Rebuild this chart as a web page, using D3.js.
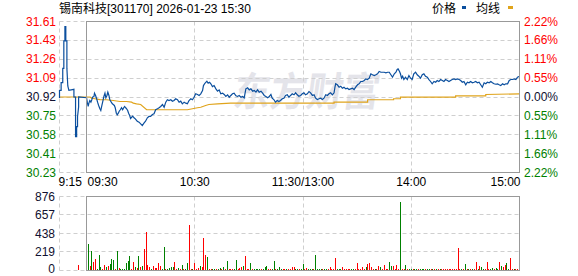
<!DOCTYPE html>
<html>
<head>
<meta charset="utf-8">
<script src="https://cdn.jsdelivr.net/npm/d3@7"></script>
<style>
  body { margin: 0; background: #fff; }
  svg { display: block; font-family: "Liberation Sans", Arial, "Noto Sans CJK SC", sans-serif; font-size: 12px; }
</style>
</head>
<body>
<svg id="chart" width="578" height="276"></svg>
<script>
// ---- data ----
var title = "锡南科技[301170] 2026-01-23 15:30";
var prevClose = 30.92;
var maxPct = 0.0222;

var priceLabels = ["31.61", "31.43", "31.26", "31.09", "30.92", "30.75", "30.58", "30.41", "30.23"];
var pctLabels = ["2.22%", "1.66%", "1.11%", "0.55%", "0.00%", "0.55%", "1.11%", "1.66%", "2.22%"];
var volTicks = [0, 219, 438, 657, 876];

// minutes from 09:30 (lunch removed, pre-market negative)
var timeTicks = [-15, 0, 60, 120, 180, 240];
var timeLabels = ["9:15", "09:30", "10:30", "11:30/13:00", "14:00", "15:00"];

// [minute, price]
var pricePoints = [
  [-15,30.91],[-15,30.98],[-14.1,30.98],[-14.1,31.05],[-13.2,31.05],[-13.2,31.18],[-12.6,31.18],[-12.6,31.43],
  [-12,31.43],[-12,31.56],[-11.5,31.56],[-11.5,31.43],[-10.9,31.43],[-10.9,31.18],[-10.4,31.02],[-9.8,30.98],
  [-7,30.99],[-7,30.92],[-6.1,30.92],[-6.1,30.56],[-5.5,30.56],[-5.5,30.65],[-5,30.65],[-5,30.74],[-4.4,30.83],
  [-4.4,30.92],
  [0,30.913],[0.4,30.873],[0.9,30.834],[1.3,30.864],[1.8,30.888],[2.4,30.873],[2.9,30.895],[3.3,30.918],[4.1,30.925],
  [4.4,30.955],[5,30.934],[5.6,30.904],[6.1,30.873],[6.7,30.843],[7.4,30.813],[7.9,30.797],[8.5,30.843],[9.1,30.888],
  [9.6,30.925],[10.2,30.955],[10.7,30.913],[11.3,30.934],[11.8,30.964],[12.4,30.934],[12.9,30.895],[13.7,30.873],
  [14.3,30.858],[14.8,30.852],[15.4,30.843],[15.9,30.822],[16.5,30.773],[17,30.758],[17.6,30.773],[18.1,30.791],
  [18.7,30.804],[19.4,30.822],[20,30.804],[20.6,30.822],[21.1,30.834],[21.7,30.822],[22.2,30.813],[22.8,30.797],
  [23.3,30.773],[23.9,30.752],[24.4,30.725],[25,30.736],[25.6,30.746],[26.3,30.731],[26.8,30.725],
  [28.1,30.700],[29.1,30.691],[30,30.676],[30.9,30.661],[31.8,30.682],[32.7,30.700],[33.7,30.731],[34.6,30.743],
  [35.5,30.743],[36.5,30.761],[37.4,30.767],[38.3,30.804],[39.3,30.813],[40.2,30.822],[41.1,30.834],[42.1,30.852],
  [43,30.827],[43.9,30.873],[44.8,30.895],[45.7,30.888],[46.7,30.895],[47.6,30.882],[48.5,30.888],[49.4,30.904],
  [50.4,30.895],[51.3,30.873],[52.2,30.882],[53.1,30.858],[54.1,30.873],[55,30.864],[55.9,30.858],[56.8,30.888],
  [57.8,30.904],[58.7,30.895],[59.6,30.918],[60.5,30.949],[61.5,30.943],[62.4,30.934],[63.3,30.949],[64.3,30.979],
  [64.8,31.024],[65.6,31.045],[66.7,31.064],[67.4,31.045],[68.2,31.054],[68.9,31.040],[69.8,31.015],[70.7,31.024],
  [71.7,30.994],[72.6,30.973],[73.5,30.985],[74.4,30.949],[75.4,30.955],[76.3,30.943],[77.2,30.925],[78.2,30.940],
  [79.1,30.918],[80,30.934],[80.9,30.949],[81.8,30.955],[82.8,30.931],[83.7,30.925],[84.6,30.934],[85.6,30.918],
  [86.5,30.925],[87.4,30.913],[88.3,30.994],[89.3,31.004],[90.2,30.985],[91.1,30.994],[92.1,30.973],[93,30.979],
  [93.9,30.964],[94.8,30.985],[95.7,30.964],[96.7,30.973],[97.6,30.955],[98.5,30.934],[99.4,30.925],[100.4,30.913],
  [101.3,30.925],[102.2,30.943],[102.9,30.909],[103.8,30.897],[104.7,30.873],[105.7,30.888],[106.6,30.879],
  [107.5,30.888],[108.5,30.904],[109.4,30.909],[110.3,30.934],[111.3,30.940],[112.2,30.918],[113.1,30.934],
  [114,30.949],[115,30.940],[115.9,30.958],[116.8,30.940],[117.7,30.927],[118.7,30.934],[119.6,30.949],
  [120.5,30.958],[121.4,30.940],[122.4,30.949],[123.3,30.970],[124.2,30.958],[125.2,30.934],[126.1,30.940],
  [127,30.909],[127.9,30.897],[128.9,30.904],[129.8,30.909],[130.7,30.897],[131.6,30.909],[132.6,30.940],
  [133.5,30.934],[134.4,30.949],[135.3,30.958],[136.3,30.940],[137.2,30.958],[137.7,31.009],[138.1,31.040],
  [139,31.031],[140,31.009],[140.9,31.018],[141.8,31.000],[142.7,31.009],[143.7,30.994],[144.6,31.000],
  [145.5,30.988],[146.4,30.994],[147.4,31.000],[148.3,30.988],[149.2,31.009],[150.2,31.031],[151.1,31.040],
  [152,31.061],[153,31.061],[153.9,31.070],[154.8,31.085],[155.7,31.079],[156.7,31.091],[157.6,31.131],
  [158.5,31.122],[159.5,31.115],[160.4,31.122],[161.3,31.131],[162.2,31.152],[163.2,31.145],[164.1,31.145],
  [165,31.145],[165.9,31.140],[166.9,31.145],[167.8,31.145],[168.7,31.122],[169.6,31.100],[170.6,31.131],
  [171.5,31.145],[172.2,31.170],[172.7,31.176],[173.5,31.152],[174,31.131],[174.6,31.091],[175.2,31.109],
  [175.9,31.079],[176.8,31.100],[177.8,31.079],[178.7,31.115],[179.6,31.091],[180.5,31.079],[181.4,31.131],
  [182.4,31.145],[183.3,31.122],[184.2,31.109],[185.1,31.091],[186.1,31.122],[187,31.131],[187.9,31.109],
  [188.9,31.100],[189.8,31.079],[190.7,31.061],[191.6,31.040],[192.6,31.061],[193.5,31.054],[194.4,31.070],
  [195.3,31.061],[196.3,31.079],[197.2,31.070],[198.1,31.061],[199,31.079],[200,31.070],[200.9,31.061],
  [201.8,31.070],[202.7,31.079],[203.7,31.085],[204.6,31.079],[205.5,31.085],[206.5,31.079],[207.4,31.070],
  [208.3,31.054],[209.2,31.061],[210.2,31.031],[211.1,31.054],[212,31.049],[212.9,31.061],[213.9,31.049],
  [214.8,31.054],[215.7,31.061],[216.7,31.049],[217.6,31.054],[218.5,31.031],[219.4,31.009],[220.4,31.049],
  [221.3,31.040],[222.2,31.054],[223.2,31.049],[224.1,31.061],[225,31.049],[225.9,31.040],[226.9,31.036],
  [227.8,31.040],[228.7,31.031],[229.6,31.024],[230.6,31.040],[231.5,31.031],[232.4,31.040],[233.4,31.040],
  [234.3,31.070],[235.2,31.079],[236.1,31.079],[237.1,31.085],[238,31.079],[238.9,31.100],[240,31.109]
];

// [minute, average price]
var avgPoints = [
  [-15,30.92],[2,30.92],[2.8,30.909],[4.6,30.904],[7.4,30.897],[11.1,30.895],[14.8,30.888],[18.5,30.879],
  [22.2,30.879],[25,30.873],[25.9,30.864],[27.7,30.858],[30,30.852],[33.3,30.804],[55.9,30.804],[58.7,30.813],
  [61.5,30.822],[63.3,30.827],[66,30.843],[67.8,30.852],[72.6,30.858],[79.8,30.864],[137.2,30.864],
  [137.2,30.873],[155.8,30.873],[155.8,30.895],[170.2,30.895],[170.2,30.904],[174,30.904],[174,30.918],
  [204.6,30.918],[204.6,30.931],[221.3,30.931],[221.3,30.943],[240,30.949]
];

// one bar per minute from 09:30; positive = up tick (red), negative = down tick (green)
var volumes = [
  8, -308, 47, -225, 99, 130, -8, -178, -32, 8, 59, -32, 51, -71, -130, -118, 12, -225, 20, -12,
  -12, -12, -87, -110, -166, 8, 95, -32, 24, -166, 32, -47, 245, 446, 59, 32, -8, 47, 28, 28,
  79, 47, -8, -272, 12, -12, -20, -32, -40, 95, 12, -24, 16, -59, 12, -12, -83, 537, 12, -12,
  83, 16, 24, -47, 36, 379, 178, -154, 8, 12, -12, -12, 12, -12, -24, 8, -36, 16, -107, 12,
  8, 12, -12, -118, 12, 24, 40, -47, 166, 12, 12, -83, 12, -12, -12, -12, -12, 12, -12, -32,
  -47, 12, 12, -12, -107, 12, -12, -36, -12, 12, 12, -12, 12, 12, 40, 32, -12, -12, 12, -12,
  -71, 12, 24, -12, -12, -12, 8, -178, -12, -12, -12, 12, -12, -12, 12, 32, 12, 8, 138, -12,
  -12, -12, 32, 12, 12, 12, 12, -12, -12, 12, 83, 12, 12, 32, 12, -32, 67, 79, 32, 12,
  -12, 8, 47, -32, 12, 59, 12, 8, -95, -47, 47, 8, 59, 12, -802, 8, 12, -55, 12, -12,
  -12, 12, -12, -12, 12, -12, -12, -12, 12, -12, -12, 12, -12, 12, -12, 12, -12, 12, 12, 12,
  12, 12, 12, 12, 12, 8, 257, 12, -12, 12, -71, 12, -12, 12, -12, 8, 95, -12, 47, -32,
  -12, 8, 95, 12, -12, -24, 12, -24, -12, 95, -47, 32, 59, -79, -12, 142, 12, -12, 8, 8,
  166
];
// call auction bar [minute, volume]
var auctionVol = [[-4.6, 59]];

// ---- drawing ----
var RED = "#ff0000", GREEN = "#008000", DARK = "#101030";
var svg = d3.select("#chart");

var x = d3.scaleLinear().domain([-15, 240]).range([59.5, 519.5]);
var yP = d3.scaleLinear()
  .domain([prevClose * (1 - maxPct), prevClose * (1 + maxPct)])
  .range([172.5, 21.5]);
var yV = d3.scaleLinear().domain([0, 876]).range([270, 196]);

function crisp(v) { return Math.floor(v) + 0.5; }

var levels = priceLabels.map(function(d, i) {
  return prevClose * (1 + maxPct * (4 - i) / 4);
});
function labelColor(i) {
  return i < 4 ? RED : (i == 4 ? DARK : GREEN);
}

// watermark
svg.append("text")
  .attr("x", 232).attr("y", 106)
  .attr("transform", "skewX(-8) translate(15,0)")
  .attr("textLength", 146)
  .attr("lengthAdjust", "spacingAndGlyphs")
  .style("font-family", "'Noto Sans CJK SC', sans-serif")
  .style("font-size", "40px")
  .style("font-weight", "bold")
  .style("fill", "#e4e4ea")
  .text("东方财富");

var grid = svg.append("g")
  .attr("stroke", "#cfcfcf")
  .attr("stroke-dasharray", "4,3")
  .attr("fill", "none");

// price grid
levels.forEach(function(l) {
  var yy = crisp(yP(l));
  grid.append("line").attr("x1", x(-15)).attr("x2", x(240)).attr("y1", yy).attr("y2", yy);
});
// volume grid
volTicks.forEach(function(t) {
  var yy = crisp(yV(t));
  grid.append("line").attr("x1", x(-15)).attr("x2", x(240)).attr("y1", yy).attr("y2", yy);
});
[-15, 60, 120, 180].forEach(function(t) {
  var xx = crisp(x(t));
  grid.append("line").attr("x1", xx).attr("x2", xx).attr("y1", yP.range()[1]).attr("y2", yP.range()[0]);
  grid.append("line").attr("x1", xx).attr("x2", xx).attr("y1", 196.5).attr("y2", 270.5);
});

// volume bars
var bars = volumes.map(function(v, i) { return [i, v]; }).concat(auctionVol);
svg.append("g").selectAll("rect")
  .data(bars)
  .enter().append("rect")
  .attr("x", function(d) { return Math.floor(x(d[0])); })
  .attr("width", 1)
  .attr("y", function(d) { return 270 - Math.max(1, Math.round(270 - yV(Math.abs(d[1])))); })
  .attr("height", function(d) { return Math.max(1, Math.round(270 - yV(Math.abs(d[1])))); })
  .attr("fill", function(d) { return d[1] >= 0 ? RED : GREEN; })
  .attr("shape-rendering", "crispEdges");

// price + average lines
var line = d3.line()
  .x(function(d) { return x(d[0]); })
  .y(function(d) { return yP(d[1]); });

svg.append("path")
  .datum(avgPoints)
  .attr("d", line)
  .attr("fill", "none")
  .attr("stroke", "#e0a41c")
  .attr("stroke-width", 1.2);

svg.append("path")
  .datum(pricePoints)
  .attr("d", line)
  .attr("fill", "none")
  .attr("stroke", "#0b4f9e")
  .attr("stroke-width", 1.2);

// frames
var fx0 = crisp(x(0)), fx1 = crisp(x(240));
svg.append("rect")
  .attr("x", fx0).attr("y", 21.5)
  .attr("width", fx1 - fx0).attr("height", 151)
  .attr("fill", "none").attr("stroke", "#999");
svg.append("rect")
  .attr("x", fx0).attr("y", 196.5)
  .attr("width", fx1 - fx0).attr("height", 74)
  .attr("fill", "none").attr("stroke", "#999");

// left price labels
svg.append("g").selectAll("text")
  .data(priceLabels)
  .enter().append("text")
  .attr("x", 56)
  .attr("y", function(d, i) { return yP(levels[i]) + 4; })
  .attr("text-anchor", "end")
  .attr("fill", function(d, i) { return labelColor(i); })
  .text(function(d) { return d; });

// right percent labels
svg.append("g").selectAll("text")
  .data(pctLabels)
  .enter().append("text")
  .attr("x", 524)
  .attr("y", function(d, i) { return yP(levels[i]) + 4; })
  .attr("fill", function(d, i) { return labelColor(i); })
  .text(function(d) { return d; });

// time labels
svg.append("g").selectAll("text")
  .data(timeLabels)
  .enter().append("text")
  .attr("x", function(d, i) {
    if (i == 0) return x(timeTicks[i]) - 1;
    if (i == 1) return x(timeTicks[i]) + 1;
    return x(timeTicks[i]) + (i == timeTicks.length - 1 ? 1 : 0);
  })
  .attr("y", 186)
  .attr("text-anchor", function(d, i) {
    return i < 2 ? "start" : (i == timeTicks.length - 1 ? "end" : "middle");
  })
  .attr("fill", "#000")
  .text(function(d) { return d; });

// volume labels
svg.append("g").selectAll("text")
  .data(volTicks)
  .enter().append("text")
  .attr("x", 55)
  .attr("y", function(d) { return Math.min(yV(d) + 4.5, 272.5); })
  .attr("text-anchor", "end")
  .attr("fill", DARK)
  .text(function(d) { return d; });

// title + legend
svg.append("text").attr("x", 59).attr("y", 13).attr("fill", "#000").text(title);

var legend = svg.append("g");
legend.append("text").attr("x", 432).attr("y", 13).attr("fill", "#000").text("价格");
legend.append("rect").attr("x", 462).attr("y", 6).attr("width", 4).attr("height", 3).attr("fill", "#0b4f9e");
legend.append("text").attr("x", 476).attr("y", 13).attr("fill", "#000").text("均线");
legend.append("rect").attr("x", 508).attr("y", 6).attr("width", 5).attr("height", 3).attr("fill", "#e0a41c");
</script>
</body>
</html>
